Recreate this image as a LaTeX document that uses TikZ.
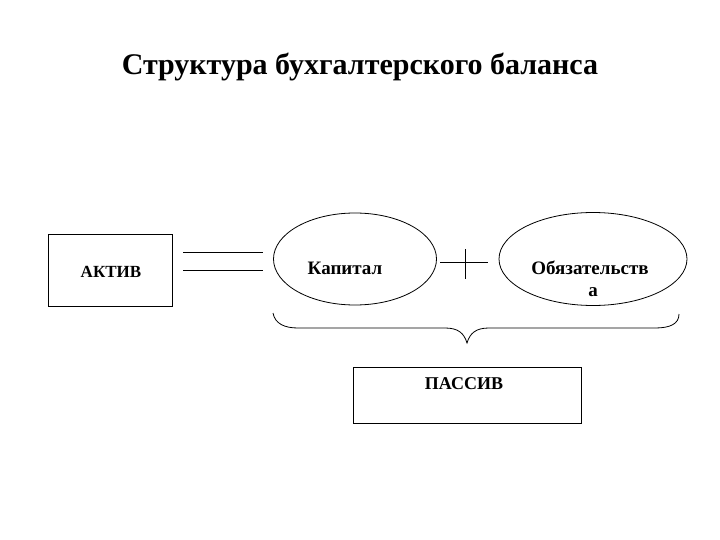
\documentclass[tikz,border=0pt]{standalone}
\usepackage{fontspec}
\setmainfont{Liberation Serif}
\usetikzlibrary{shapes.geometric}
\begin{document}
\begin{tikzpicture}[x=1pt,y=-1pt,
  line/.style={line width=0.8pt},
  lbl/.style={font=\bfseries\fontsize{17}{19}\selectfont, anchor=base, inner sep=0pt},
  elbl/.style={font=\bfseries\fontsize{19}{21}\selectfont, anchor=base, inner sep=0pt},
  boxn/.style={draw, line width=0.8pt, inner sep=0pt},
  ell/.style={draw, ellipse, line width=0.8pt, inner sep=0pt}]
\useasboundingbox (0,0) rectangle (720,540);
\node[font=\bfseries\fontsize{30}{34}\selectfont, anchor=base, inner sep=0pt] (title) at (360,75) {Структура бухгалтерского баланса};
% AKTIV box
\node[boxn, minimum width=124pt, minimum height=72pt] (aktivbox) at (110,270) {};
\node[lbl] (aktiv) at (111,277) {АКТИВ};
% equals sign
\coordinate (e1a) at (183,252); \coordinate (e1b) at (263,252);
\coordinate (e2a) at (183,270); \coordinate (e2b) at (263,270);
\draw[line] (e1a) -- (e1b);
\draw[line] (e2a) -- (e2b);
% Kapital ellipse
\node[ell, minimum width=163pt, minimum height=92pt] (kapell) at (355,259) {};
\node[elbl] (kap) at (345,274) {Капитал};
% plus sign
\coordinate (pv1) at (465,249); \coordinate (pv2) at (465,279);
\coordinate (ph1) at (440,262); \coordinate (ph2) at (488,262);
\draw[line] (pv1) -- (pv2);
\draw[line] (ph1) -- (ph2);
% Obyazatelstva ellipse
\node[ell, minimum width=188pt, minimum height=93pt] (obell) at (593,259) {};
\node[elbl] (ob1) at (590,274) {Обязательств};
\node[elbl] (ob2) at (593,296) {а};
% brace
\coordinate (bl) at (273,313);
\coordinate (br) at (679,314);
\coordinate (bt) at (467,343);
\draw[line] (bl) .. controls (275,324) and (285,328) .. (298,328) -- (445,328)
  .. controls (458,328) and (464,333) .. (bt)
  .. controls (470,333) and (476,328) .. (489,328) -- (655,328)
  .. controls (670,328) and (679,324) .. (br);
% PASSIV box
\node[boxn, minimum width=228pt, minimum height=56pt] (passivbox) at (467,395) {};
\node[lbl, font=\bfseries\fontsize{18}{20}\selectfont] (passiv) at (464,389) {ПАССИВ};
\end{tikzpicture}
\end{document}
